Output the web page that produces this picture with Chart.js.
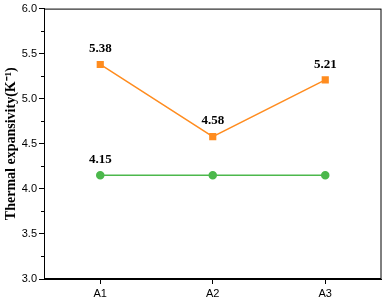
<!DOCTYPE html>
<html>
<head>
<meta charset="utf-8">
<script src="https://cdn.jsdelivr.net/npm/chart.js@4/dist/chart.umd.min.js"></script>
<style>
  html, body { margin: 0; padding: 0; background: #fff; }
</style>
</head>
<body>
<canvas id="chart" width="387" height="300"></canvas>
<script>
// data
const samples = ['A1', 'A2', 'A3'];
const orangeSeries = [5.38, 4.58, 5.21];
const greenSeries = [4.15, 4.15, 4.15];
const yTicks = [3.0, 3.5, 4.0, 4.5, 5.0, 5.5, 6.0];

// value labels above points (green only labelled on first point)
const valueLabels = {
    draw(chart) {
        const ctx = chart.ctx;
        ctx.save();
        ctx.font = 'bold 13px "Liberation Serif", "Times New Roman", serif';
        ctx.fillStyle = '#000';
        ctx.textAlign = 'center';
        ctx.textBaseline = 'bottom';
        chart.getDatasetMeta(0).data.forEach((pt, i) => {
            ctx.fillText(orangeSeries[i].toFixed(2), pt.x, pt.y - 9);
        });
        const g = chart.getDatasetMeta(1).data[0];
        ctx.fillText(greenSeries[0].toFixed(2), g.x, g.y - 9);
        ctx.restore();
    }
};

const framePlugin = {
    id: 'frame',
    afterDraw(chart) {
        const ctx = chart.ctx;
        const a = chart.chartArea;
        const y = chart.scales.y;
        ctx.save();
        ctx.strokeStyle = '#000';
        ctx.lineWidth = 1;
        ctx.strokeRect(a.left + 0.5, a.top + 0.5, a.right - a.left - 1, a.bottom - a.top - 1);
        // minor ticks between major ones
        ctx.beginPath();
        for (let i = 0; i < yTicks.length - 1; i++) {
            const v = (yTicks[i] + yTicks[i + 1]) / 2;
            const py = Math.round(y.getPixelForValue(v)) + 0.5;
            ctx.moveTo(a.left, py);
            ctx.lineTo(a.left - 3, py);
        }
        ctx.stroke();
        ctx.restore();
        valueLabels.draw(chart);
    }
};

new Chart(document.getElementById('chart'), {
    type: 'line',
    data: {
        labels: samples,
        datasets: [
            {
                data: orangeSeries,
                borderColor: '#ff8c1f',
                backgroundColor: '#ff8c1f',
                borderWidth: 1.5,
                pointStyle: 'rect',
                pointRadius: 4,
                pointHoverRadius: 4
            },
            {
                data: greenSeries,
                borderColor: '#4cb84c',
                backgroundColor: '#4cb84c',
                borderWidth: 1.5,
                pointStyle: 'circle',
                pointRadius: 3.5,
                pointHoverRadius: 3.5
            }
        ]
    },
    options: {
        responsive: false,
        animation: false,
        layout: { padding: { top: 0, right: 0, left: 0, bottom: 0 } },
        plugins: {
            legend: { display: false },
            tooltip: { enabled: false }
        },
        scales: {
            x: {
                offset: true,
                afterFit: s => { s.height = 21; },
                grid: { drawOnChartArea: false, tickLength: 5, color: '#000', offset: false },
                border: { color: '#000' },
                ticks: {
                    color: '#000',
                    padding: 3,
                    font: { family: '"Liberation Sans", Arial, sans-serif', size: 11 }
                }
            },
            y: {
                min: 3,
                max: 6,
                afterFit: s => { s.width = 44; },
                grid: { drawOnChartArea: false, tickLength: 5, color: '#000' },
                border: { color: '#000' },
                ticks: {
                    stepSize: 0.5,
                    color: '#000',
                    padding: 2,
                    font: { family: '"Liberation Sans", Arial, sans-serif', size: 11 },
                    callback: v => v.toFixed(1)
                },
                title: {
                    display: true,
                    text: 'Thermal expansivity(K\u207B\u00B9)',
                    color: '#000',
                    padding: { top: 3, bottom: 0 },
                    font: { family: '"Liberation Serif", "Times New Roman", serif', size: 14, weight: 'bold' }
                }
            }
        }
    },
    plugins: [framePlugin]
});
</script>
</body>
</html>
